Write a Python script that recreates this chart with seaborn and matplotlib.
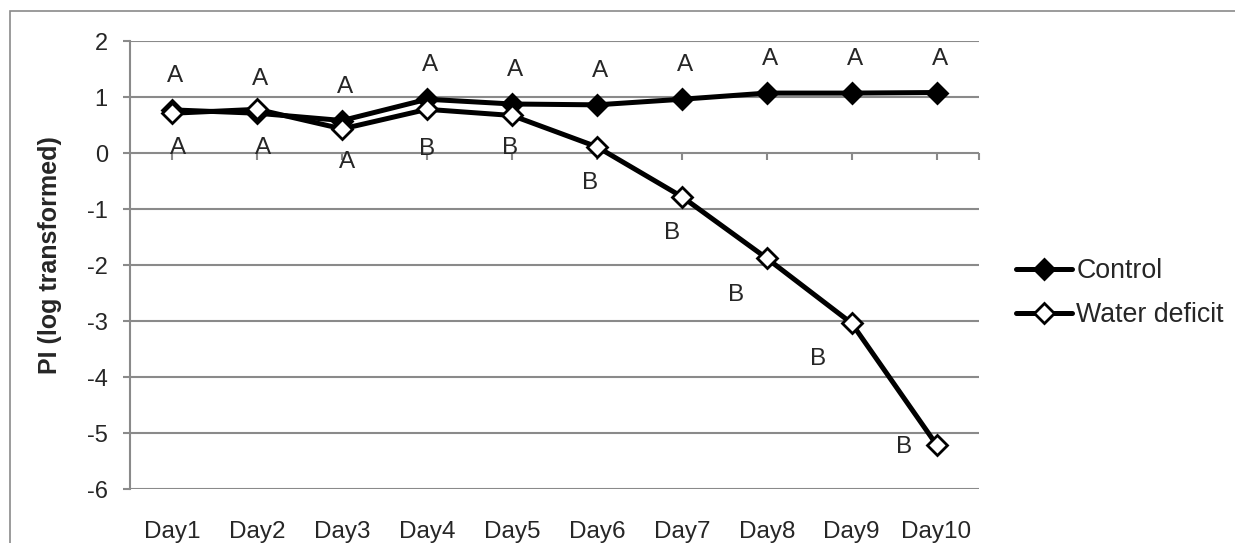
import numpy as np
import pandas as pd
import matplotlib.pyplot as plt
import seaborn as sns
from matplotlib.patches import Rectangle


giorni = ["Day1", "Day2", "Day3", "Day4", "Day5", "Day6", "Day7", "Day8", "Day9", "Day10"]
control = [0.77, 0.71, 0.58, 0.96, 0.875, 0.86, 0.96, 1.07, 1.07, 1.08]
water_deficit = [0.71, 0.78, 0.43, 0.78, 0.67, 0.11, -0.78, -1.88, -3.04, -5.21]

lettere_control = ["A", "A", "A", "A", "A", "A", "A", "A", "A", "A"]
lettere_water = ["A", "A", "A", "B", "B", "B", "B", "B", "B", "B"]

# spostamento delle lettere sotto la curva water deficit (pixel)
offset_water = [(6, -35), (6, -39), (5, -33), (0, -40), (-2, -33),
                (-7, -36), (-10, -36), (-31, -37), (-34, -36), (-32, -2)]

GRIGIO = "#8a8a8a"


def main():
    sns.set_theme(style="white")
    plt.rcParams["font.family"] = ["Liberation Sans", "DejaVu Sans"]
    plt.rcParams["axes.unicode_minus"] = False

    df = pd.DataFrame({
        "giorno": giorni * 2,
        "valore": control + water_deficit,
        "serie": ["Control"] * len(giorni) + ["Water deficit"] * len(giorni),
    })

    fig = plt.figure(figsize=(12.35, 5.43), dpi=100)
    ax = fig.add_axes([130 / 1235, 1 - 489 / 543, 849 / 1235, 448 / 543])

    sns.lineplot(data=df[df["serie"] == "Control"], x="giorno", y="valore",
                 color="black", lw=3.6, marker="D", markersize=10,
                 markerfacecolor="black", markeredgecolor="black", markeredgewidth=2,
                 label="Control", sort=False, ax=ax, zorder=3)
    sns.lineplot(data=df[df["serie"] == "Water deficit"], x="giorno", y="valore",
                 color="black", lw=3.6, marker="D", markersize=10,
                 markerfacecolor="white", markeredgecolor="black", markeredgewidth=2,
                 label="Water deficit", sort=False, ax=ax, zorder=4)

    for i, (let, val) in enumerate(zip(lettere_control, control)):
        ax.annotate(let, (i, val), xytext=(3, 34), textcoords="offset pixels",
                    ha="center", va="center", fontsize=17.5)
    for i, (let, val) in enumerate(zip(lettere_water, water_deficit)):
        dx, dy = offset_water[i]
        ax.annotate(let, (i, val), xytext=(dx, dy), textcoords="offset pixels",
                    ha="center", va="center", fontsize=17.5, zorder=5)

    ax.set_xlim(-0.5, len(giorni) - 0.5)
    ax.set_ylim(-6, 2)
    ax.set_yticks(np.arange(-6, 3, 1))
    ax.grid(axis="y", color=GRIGIO, lw=1.5)
    ax.grid(axis="x", visible=False)
    ax.set_axisbelow(True)

    for lato in ["top", "right", "bottom"]:
        ax.spines[lato].set_visible(False)
    ax.spines["left"].set_color(GRIGIO)
    ax.spines["left"].set_linewidth(1.5)

    ax.tick_params(axis="y", which="both", left=True, direction="out", length=5,
                   width=1.5, color=GRIGIO, pad=11, labelsize=17)
    ax.tick_params(axis="x", bottom=False, pad=17, labelsize=17.5)

    # asse x che passa per lo zero, con le tacche verso il basso
    asse_zero = ax.secondary_xaxis(0.75)
    asse_zero.set_xticks(list(range(len(giorni))) + [len(giorni) - 0.5])
    asse_zero.tick_params(axis="x", which="both", direction="in", length=5, width=1.5,
                          color=GRIGIO, labelbottom=False, labeltop=False)
    for lato in ["top", "bottom"]:
        asse_zero.spines[lato].set_visible(False)

    ax.set_xlabel("")
    ax.set_ylabel("PI (log transformed)", fontsize=18, fontweight="bold")
    ax.yaxis.set_label_coords(-0.08, 0.522)

    ax.legend(loc="center left", bbox_to_anchor=(1016 / 1235, 1 - 293 / 543),
              bbox_transform=fig.transFigure, frameon=False, fontsize=19.3,
              handlelength=2.1, handletextpad=0.15, borderpad=0, borderaxespad=0,
              labelspacing=0.68)

    bordo = Rectangle((10 / 1235, -0.1), 1.2, 1.1 - 11 / 543, transform=fig.transFigure,
                      fill=False, edgecolor=GRIGIO, lw=1.2)
    fig.patches.append(bordo)

    fig.savefig("out.png", dpi=100)


if __name__ == "__main__":
    main()
